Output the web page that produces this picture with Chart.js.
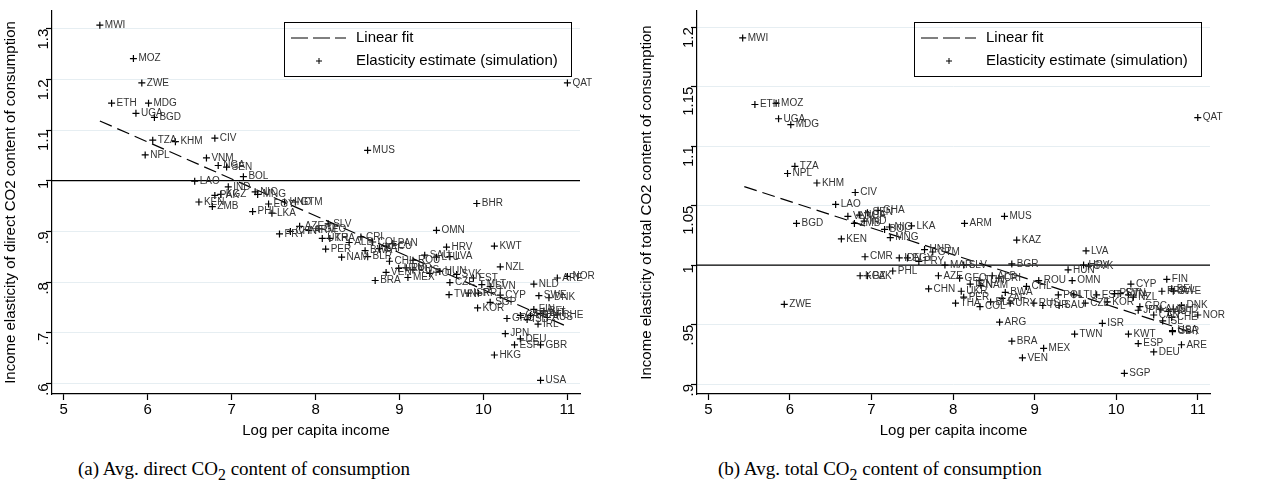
<!DOCTYPE html>
<html>
<head>
<meta charset="utf-8">
<script src="https://cdn.jsdelivr.net/npm/chart.js@4"></script>
<style>
  body { margin: 0; background: #fff; width: 1272px; height: 502px; overflow: hidden; position: relative; }
  .box { position: absolute; top: 0; width: 636px; height: 450px; }
  .cap { position: absolute; top: 458px; font-family: "Liberation Serif", "DejaVu Serif", serif; font-size: 19px; color: #000; }
</style>
</head>
<body>
<div class="box" style="left:0"><canvas id="chartA"></canvas></div>
<div class="box" style="left:636px"><canvas id="chartB"></canvas></div>
<div class="cap" style="left:78px">(a) Avg. direct CO<sub>2</sub> content of consumption</div>
<div class="cap" style="left:718px">(b) Avg. total CO<sub>2</sub> content of consumption</div>
<script>
// Panel (a): direct CO2 content
const codesA = ['MWI','MOZ','ZWE','ETH','MDG','UGA','BGD','TZA','KHM','CIV','NPL','MUS','VNM','NGA','SEN','BOL','LAO','IND','PAK','KGZ','NIC','MNG','KEN','ZMB','EGY','HND','GTM','PHL','LKA','SLV','AZE','GEO','PRY','CHN','ARM','UKR','THA','CRI','ALB','PAN','PER','COL','ZAF','ECU','BWA','NAM','BLR','CHL','ROU','SAU','LTU','LVA','HRV','KWT','NZL','OMN','BHR','VEN','TUR','RUS','URY','POL','HUN','SVK','EST','BRA','MEX','CZE','MLT','SVN','NLD','ARE','NOR','TWN','ISR','PRT','CYP','SGP','KOR','SWE','DNK','GRC','FIN','BEL','AUT','FRA','CAN','CHE','AUS','ISL','IRL','JPN','DEU','ESP','GBR','HKG','USA','QAT'];
const incomeA = [5.43,5.83,5.93,5.57,6.01,5.86,6.08,6.06,6.33,6.80,5.97,8.62,6.70,6.84,6.94,7.14,6.56,6.96,6.80,6.87,7.28,7.31,6.61,6.77,7.44,7.63,7.76,7.25,7.48,8.15,7.81,8.04,7.57,7.70,7.92,8.08,8.17,8.54,8.40,8.92,8.12,8.68,8.76,8.84,8.59,8.31,8.62,8.88,9.16,9.30,9.44,9.60,9.56,10.13,10.20,9.44,9.92,8.84,9.08,9.16,8.99,9.36,9.48,9.68,9.88,8.71,9.10,9.60,9.98,10.08,10.60,10.88,11.00,9.59,9.82,9.94,10.20,10.08,9.93,10.66,10.78,10.28,10.60,10.72,10.68,10.56,10.44,10.88,10.76,10.52,10.65,10.26,10.44,10.37,10.68,10.13,10.68,11.00];
const elastA = [1.307,1.241,1.193,1.153,1.153,1.133,1.125,1.080,1.077,1.084,1.051,1.060,1.045,1.030,1.027,1.008,0.999,0.988,0.971,0.973,0.978,0.973,0.958,0.949,0.954,0.958,0.958,0.939,0.936,0.915,0.910,0.905,0.895,0.900,0.902,0.886,0.886,0.889,0.878,0.876,0.865,0.879,0.866,0.871,0.862,0.849,0.850,0.841,0.843,0.853,0.849,0.850,0.869,0.871,0.830,0.902,0.955,0.819,0.828,0.824,0.827,0.817,0.821,0.815,0.808,0.803,0.809,0.799,0.795,0.791,0.796,0.808,0.811,0.775,0.778,0.778,0.774,0.760,0.749,0.773,0.769,0.728,0.746,0.743,0.738,0.734,0.734,0.735,0.730,0.726,0.717,0.698,0.688,0.676,0.676,0.656,0.606,1.193];
const fitXA = [5.43, 11.0];
const fitYA = [1.118, 0.712];
const ticksA = [0.6, 0.7, 0.8, 0.9, 1.0, 1.1, 1.2, 1.3];

// Panel (b): total CO2 content
const codesB = ['MWI','ETH','MOZ','UGA','MDG','QAT','TZA','NPL','KHM','CIV','LAO','GHA','SEN','NGA','VNM','ZMB','IND','BGD','NIC','BOL','LKA','ARM','MUS','KEN','MNG','KAZ','HND','GTM','LVA','CMR','IDN','EGY','PRY','MAR','SLV','BGR','HUN','HRV','SVK','KGZ','PAK','PHL','AZE','GEO','IRN','ALB','CRI','TUN','UKR','CHN','NAM','BWA','CHL','ROU','OMN','PER','THA','COL','BLR','ZAF','URY','RUS','TUR','SAU','POL','LTU','EST','CZE','KOR','SVN','PRT','ITA','NZL','CYP','FIN','BEL','FRA','SWE','DNK','NOR','NLD','GRC','JPN','AUS','AUT','CAN','CHE','ISL','GBR','USA','ISR','TWN','KWT','ESP','ARE','DEU','ARG','BRA','MEX','VEN','SGP','ZWE'];
const incomeB = [5.42,5.57,5.83,5.86,6.01,11.0,6.06,5.97,6.33,6.80,6.56,7.08,6.95,6.85,6.71,6.79,6.91,6.08,7.22,7.16,7.49,8.14,8.63,6.63,7.23,8.78,7.65,7.75,9.63,6.92,7.34,7.44,7.58,7.90,8.13,8.72,9.41,9.60,9.66,6.86,6.95,7.26,7.82,8.08,8.21,8.48,8.56,8.32,8.10,7.70,8.34,8.64,8.90,9.05,9.46,8.13,8.03,8.33,8.46,8.60,8.70,8.99,9.10,9.30,9.29,9.48,9.76,9.62,9.89,10.05,9.98,10.15,10.21,10.18,10.62,10.68,10.56,10.70,10.80,11.0,10.70,10.29,10.27,10.54,10.64,10.46,10.68,10.57,10.69,10.69,9.83,9.49,10.15,10.27,10.80,10.46,8.57,8.72,9.11,8.85,10.10,5.93];
const elastB = [1.191,1.135,1.136,1.123,1.118,1.124,1.083,1.077,1.069,1.061,1.051,1.046,1.044,1.042,1.041,1.035,1.037,1.035,1.032,1.030,1.033,1.035,1.041,1.022,1.023,1.021,1.013,1.011,1.012,1.007,1.006,1.006,1.003,1.000,1.000,1.001,0.996,1.000,0.999,0.991,0.991,0.995,0.991,0.989,0.984,0.991,0.989,0.987,0.978,0.980,0.983,0.977,0.982,0.987,0.987,0.973,0.968,0.965,0.969,0.972,0.968,0.968,0.966,0.966,0.975,0.975,0.975,0.968,0.969,0.976,0.976,0.975,0.973,0.984,0.988,0.980,0.978,0.978,0.966,0.958,0.963,0.965,0.962,0.963,0.961,0.958,0.956,0.953,0.944,0.945,0.951,0.942,0.942,0.934,0.933,0.927,0.952,0.936,0.930,0.922,0.909,0.967];
const fitXB = [5.44, 10.99];
const fitYB = [1.066, 0.942];
const ticksB = [0.9, 0.95, 1.0, 1.05, 1.1, 1.15, 1.2];

const FONT = '"Liberation Sans", Arial, sans-serif';

function tickText(v) {
    let s = String(Math.round(v * 100) / 100);
    return s.startsWith('0.') ? s.slice(1) : s;
}

// draws country codes next to points and the framed legend
const extras = {
    id: 'extras',
    afterDatasetsDraw(chart) {
        const ctx = chart.ctx;
        const codes = chart.options.codes;
        const meta = chart.getDatasetMeta(2);
        ctx.save();
        ctx.fillStyle = '#333';
        ctx.font = '10px ' + FONT;
        ctx.textBaseline = 'middle';
        meta.data.forEach((pt, i) => ctx.fillText(codes[i], pt.x + 5, pt.y));
        // legend box
        const a = chart.chartArea;
        const bx = a.right - 296, by = a.top + 11, bw = 287, bh = 54;
        ctx.strokeStyle = '#000';
        ctx.lineWidth = 1;
        ctx.strokeRect(bx + 0.5, by + 0.5, bw, bh);
        ctx.setLineDash([17, 5]);
        ctx.beginPath(); ctx.moveTo(bx + 7, by + 16); ctx.lineTo(bx + 62, by + 16); ctx.stroke();
        ctx.setLineDash([]);
        ctx.beginPath();
        ctx.moveTo(bx + 32, by + 39); ctx.lineTo(bx + 38, by + 39);
        ctx.moveTo(bx + 35, by + 36); ctx.lineTo(bx + 35, by + 42);
        ctx.stroke();
        ctx.fillStyle = '#000';
        ctx.font = '15px ' + FONT;
        ctx.fillText('Linear fit', bx + 72, by + 16);
        ctx.fillText('Elasticity estimate (simulation)', bx + 72, by + 39);
        ctx.restore();
    }
};

function makeChart(id, codes, xs, ys, fitX, fitY, yTicks, yMin, yMax, yTitle, yWidth, padRight) {
    new Chart(document.getElementById(id), {
        type: 'scatter',
        data: {
            datasets: [
                {
                    label: 'ref',
                    type: 'line',
                    data: [{x: 4.5, y: 1}, {x: 11.5, y: 1}],
                    borderColor: '#000', borderWidth: 1.2, pointRadius: 0
                },
                {
                    label: 'Linear fit',
                    type: 'line',
                    data: fitX.map((x, i) => ({x: x, y: fitY[i]})),
                    borderColor: '#000', borderWidth: 1.2, borderDash: [13, 6], pointRadius: 0
                },
                {
                    label: 'Elasticity estimate (simulation)',
                    data: xs.map((x, i) => ({x: x, y: ys[i]})),
                    pointStyle: 'cross', pointRadius: 3.5, borderColor: '#000', borderWidth: 1.2
                }
            ]
        },
        options: {
            codes: codes,
            animation: false,
            responsive: true,
            maintainAspectRatio: false,
            layout: { padding: { top: 2, right: padRight, left: 0, bottom: 0 } },
            plugins: { legend: { display: false }, tooltip: { enabled: false } },
            scales: {
                x: {
                    type: 'linear', min: 4.86, max: 11.15,
                    afterBuildTicks: s => { s.ticks = [5, 6, 7, 8, 9, 10, 11].map(v => ({value: v})); },
                    afterFit: s => { s.height = 56; },
                    grid: { drawOnChartArea: false, drawTicks: true, tickLength: 6, tickColor: '#000', tickWidth: 1.2 },
                    border: { color: '#000', width: 1.2 },
                    ticks: { color: '#000', font: { size: 15, family: FONT }, padding: 1 },
                    title: { display: true, text: 'Log per capita income', color: '#000', font: { size: 15, family: FONT }, padding: { top: 0, bottom: 10 } }
                },
                y: {
                    type: 'linear', min: yMin, max: yMax,
                    afterBuildTicks: s => { s.ticks = yTicks.map(v => ({value: v})); },
                    afterFit: s => { s.width = yWidth; },
                    grid: { color: '#e6eef2', lineWidth: 1, drawTicks: true, tickLength: 6, tickColor: '#000', tickWidth: 1.2 },
                    border: { color: '#000', width: 1.2 },
                    ticks: { color: '#000', font: { size: 15, family: FONT }, minRotation: 90, maxRotation: 90, padding: 2, callback: v => tickText(v) },
                    title: { display: true, text: yTitle, color: '#000', font: { size: 15, family: FONT }, padding: 2 }
                }
            }
        },
        plugins: [extras]
    });
}

makeChart('chartA', codesA, incomeA, elastA, fitXA, fitYA, ticksA, 0.579, 1.335,
    'Income elasticity of direct CO2 content of consumption', 52, 56);
makeChart('chartB', codesB, incomeB, elastB, fitXB, fitYB, ticksB, 0.8916, 1.2136,
    'Income elasticity of total CO2 content of consumption', 61, 62);
</script>
</body>
</html>
